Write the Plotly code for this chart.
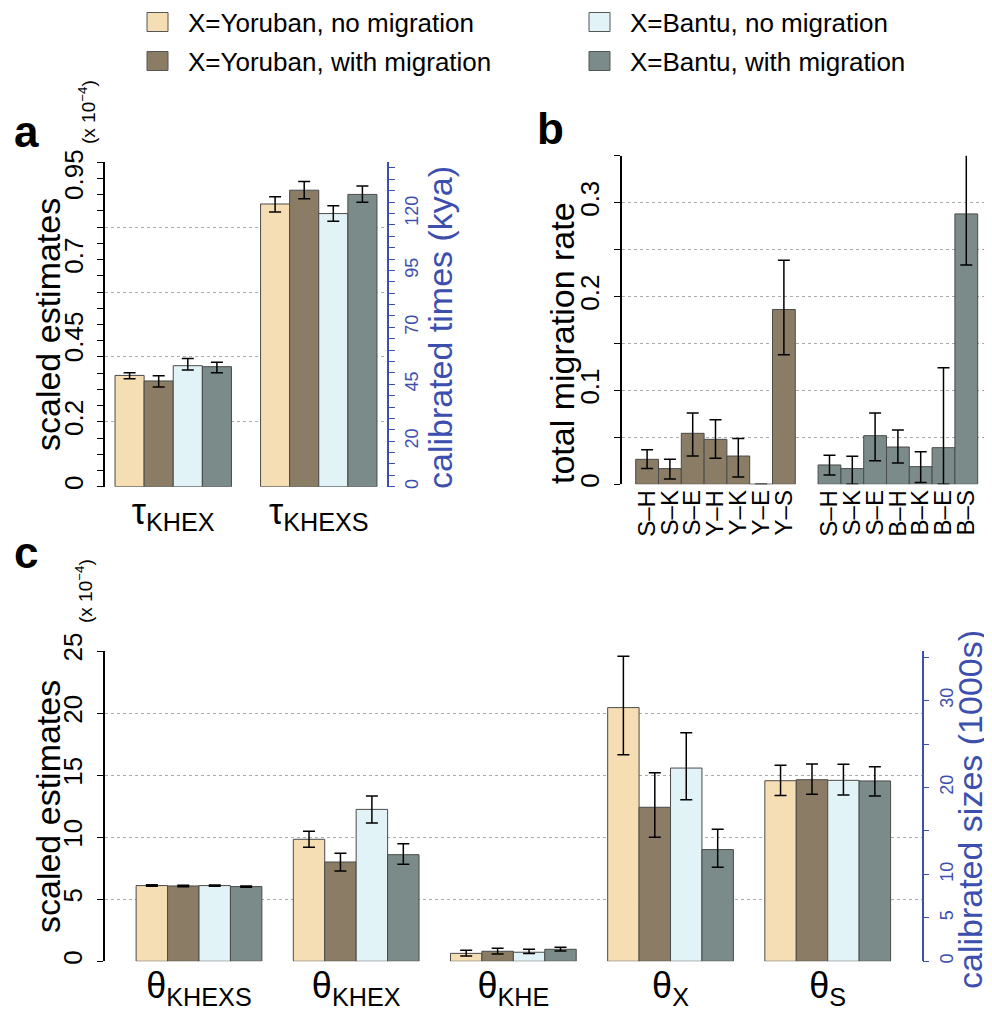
import plotly.graph_objects as go
import numpy as np

# page offset of the figure (default body margin) is compensated below
OFF = 8
W, H = 992 - OFF, 1009
FONT = "Liberation Sans, Arial, Helvetica, sans-serif"
BLUE = "#3D4FAE"

series = ["X=Yoruban, no migration", "X=Yoruban, with migration",
          "X=Bantu, no migration", "X=Bantu, with migration"]
colors = ["#F5DEB3", "#8B7D65", "#E2F3F7", "#7A8B8A"]

# ---- panel a : divergence times (x 1e-4)
tau_groups = ["τ<sub>KHEX</sub>", "τ<sub>KHEXS</sub>"]
tau_val = [[0.343, 0.8715], [0.326, 0.914], [0.373, 0.842], [0.370, 0.901]]
tau_hi = [[0.351, 0.894], [0.342, 0.941], [0.395, 0.866], [0.384, 0.927]]
tau_lo = [[0.333, 0.847], [0.307, 0.888], [0.360, 0.818], [0.351, 0.877]]
tau_left_ticks = [0, 0.2, 0.45, 0.7, 0.95]
kya_ticks = [0, 20, 45, 70, 95, 120]
kya_top = 142.5

# ---- panel b : migration rates
mig_labels_y = ["S–H", "S–K", "S–E", "Y–H", "Y–K", "Y–E", "Y–S"]
mig_val_y = [0.0266, 0.0167, 0.0543, 0.0479, 0.0301, 0.0, 0.1862]
mig_hi_y = [0.0369, 0.0266, 0.0759, 0.0688, 0.0489, 0.0, 0.2387]
mig_lo_y = [0.0167, 0.0057, 0.0301, 0.0277, 0.0078, 0.0, 0.1379]
mig_labels_b = ["S–H", "S–K", "S–E", "B–H", "B–K", "B–E", "B–S"]
mig_val_b = [0.0206, 0.0167, 0.0518, 0.0397, 0.0188, 0.039, 0.288]
mig_hi_b = [0.0309, 0.0298, 0.0759, 0.0578, 0.0348, 0.1241, 0.3532]
mig_lo_b = [0.0099, 0.0, 0.0252, 0.0227, 0.0018, 0.0, 0.2337]
mig_ticks = [0, 0.1, 0.2, 0.3]

# ---- panel c : population sizes (x 1e-4)
theta_groups = ["θ<sub>KHEXS</sub>", "θ<sub>KHEX</sub>", "θ<sub>KHE</sub>",
                "θ<sub>X</sub>", "θ<sub>S</sub>"]
theta_val = [[6.10, 9.83, 0.64, 20.44, 14.55],
             [6.07, 8.00, 0.81, 12.41, 14.63],
             [6.10, 12.24, 0.73, 15.57, 14.58],
             [6.02, 8.59, 0.97, 9.00, 14.53]]
theta_hi = [[6.16, 10.47, 0.89, 24.57, 15.79],
            [6.13, 8.70, 1.05, 15.20, 15.90],
            [6.15, 13.32, 0.97, 18.42, 15.87],
            [6.07, 9.48, 1.13, 10.63, 15.68]]
theta_lo = [[6.04, 9.18, 0.43, 16.65, 13.35],
            [6.01, 7.28, 0.59, 9.99, 13.45],
            [6.05, 11.14, 0.62, 13.02, 13.40],
            [5.97, 7.81, 0.83, 7.57, 13.32]]
size_ticks = [0, 5, 10, 20, 30]
size_top = 35.7


def px_x(p):
    return (p - OFF) / W


def px_y(p):
    return 1 - (p - OFF) / H


fig = go.Figure()
ebar = dict(type="data", symmetric=False, color="black", thickness=1.5, width=6)
line = dict(color="#4a4a4a", width=1)

for i in range(4):
    v = np.array(tau_val[i]); hi = np.array(tau_hi[i]); lo = np.array(tau_lo[i])
    fig.add_bar(x=tau_groups, y=v, name=series[i], marker=dict(color=colors[i], line=line),
                error_y=dict(array=hi - v, arrayminus=v - lo, **ebar),
                xaxis="x", yaxis="y", showlegend=False)
for i in range(4):
    v = np.array(theta_val[i]); hi = np.array(theta_hi[i]); lo = np.array(theta_lo[i])
    fig.add_bar(x=theta_groups, y=v, name=series[i], marker=dict(color=colors[i], line=line),
                error_y=dict(array=hi - v, arrayminus=v - lo, **ebar),
                xaxis="x3", yaxis="y5", showlegend=False)

# panel b: one trace, two groups separated by one empty slot
n1 = len(mig_val_y)
xb = list(range(n1)) + [n1 + 1 + k for k in range(len(mig_val_b))]
vb = np.array(mig_val_y + mig_val_b)
hib = np.array(mig_hi_y + mig_hi_b)
lob = np.array(mig_lo_y + mig_lo_b)
cb = [colors[1]] * n1 + [colors[3]] * len(mig_val_b)
fig.add_bar(x=xb, y=vb, width=1, marker=dict(color=cb, line=line),
            error_y=dict(array=hib - vb, arrayminus=vb - lob, **ebar),
            xaxis="x2", yaxis="y4", showlegend=False)

# empty helper traces so that the overlaying (secondary) axes get drawn
for xa, ya in [("x", "y2"), ("x", "y3"), ("x3", "y6")]:
    fig.add_scatter(x=[None], y=[None], mode="none", showlegend=False,
                    hoverinfo="skip", xaxis=xa, yaxis=ya)

gridstyle = dict(showgrid=True, gridcolor="#ababab", griddash="dot", gridwidth=1)
ax_common = dict(showline=True, linecolor="black", linewidth=1.5, ticks="outside",
                 ticklen=6, tickcolor="black", tickwidth=1.2, zeroline=False,
                 ticklabelstandoff=5,
                 tickangle=-90, tickfont=dict(size=26, color="black"), automargin=False)
right_common = dict(showgrid=False, showline=True, linecolor=BLUE, linewidth=1.5,
                    ticks="outside", ticklen=6, tickcolor=BLUE, tickwidth=1.2,
                    automargin=False, zeroline=False, tickangle=-90, ticklabelstandoff=2,
                    tickfont=dict(size=18, color=BLUE), visible=True)

a_dom_x = [px_x(105), px_x(387)]
a_dom_y = [px_y(486.7), px_y(162.3)]
b_dom_x = [px_x(621.7), px_x(990)]
b_dom_y = [px_y(484.3), px_y(155.7)]
c_dom_x = [px_x(105), px_x(921.7)]
c_dom_y = [px_y(961.3), px_y(651)]

step_a = np.round(np.arange(0, 1.0001, 0.05), 2)
kya_all = np.arange(0, kya_top, 5)
size_all = np.arange(0, 35.01, 5)
mig_all = np.round(np.arange(0, 0.3501, 0.05), 2)

fig.update_layout(
    width=W, height=H, margin=dict(l=0, r=0, t=0, b=0, autoexpand=False),
    paper_bgcolor="white", plot_bgcolor="white",
    font=dict(family=FONT, color="black"),
    barmode="group", bargap=0.2, bargroupgap=0,
    showlegend=False,
    # panel a
    xaxis=dict(domain=a_dom_x, anchor="y", range=[-0.469, 1.469], showline=False,
               ticks="", tickfont=dict(size=36), fixedrange=True, automargin=False),
    yaxis=dict(domain=a_dom_y, anchor="x", range=[0, 1], tickvals=[0, 0.2, 0.4, 0.6, 0.8, 1.0],
               showticklabels=False, showline=True, linecolor="black", linewidth=1.5,
               ticks="", zeroline=False, automargin=False,
               minor=dict(tickvals=list(step_a), ticks="outside", ticklen=6,
                          tickcolor="black", tickwidth=1.2, showgrid=False),
               **gridstyle),
    yaxis3=dict(overlaying="y", side="left", anchor="x", range=[0, 1], visible=True,
                tickvals=tau_left_ticks, ticktext=[f"{t:g}" for t in tau_left_ticks],
                showgrid=False, showline=False, ticks="outside", ticklen=6,
                tickcolor="rgba(0,0,0,0)", zeroline=False, tickangle=-90, automargin=False,
                ticklabelstandoff=5, tickfont=dict(size=26, color="black")),
    yaxis2=dict(overlaying="y", side="right", anchor="x", range=[0, kya_top],
                tickvals=list(kya_all),
                ticktext=[f"{int(t)}" if int(t) in kya_ticks else "" for t in kya_all],
                **right_common),
    # panel b
    xaxis2=dict(domain=b_dom_x, anchor="y4", range=[-1.114, 15.04], showline=False,
                ticks="", tickvals=xb, ticktext=mig_labels_y + mig_labels_b, automargin=False,
                tickangle=-90, tickfont=dict(size=24), fixedrange=True),
    yaxis4=dict(domain=b_dom_y, anchor="x2", range=[0, 0.35], tickvals=list(mig_all),
                ticktext=[f"{t:g}" if any(abs(t - m) < 1e-9 for m in mig_ticks) else ""
                          for t in mig_all],
                **ax_common, **gridstyle),
    # panel c
    xaxis3=dict(domain=c_dom_x, anchor="y5", range=[-0.598, 4.598], showline=False,
                ticks="", tickfont=dict(size=36), fixedrange=True, automargin=False),
    yaxis5=dict(domain=c_dom_y, anchor="x3", range=[0, 25], tickvals=[0, 5, 10, 15, 20, 25],
                **ax_common, **gridstyle),
    yaxis6=dict(overlaying="y5", side="right", anchor="x3", range=[0, size_top],
                tickvals=list(size_all),
                ticktext=[f"{int(t)}" if int(t) in size_ticks else "" for t in size_all],
                **right_common),
)

ann = []
shapes = []


def add_text(x, y, text, size, color="black", angle=0, bold=False, xanchor="center"):
    t = f"<b>{text}</b>" if bold else text
    ann.append(dict(x=px_x(x), y=px_y(y), xref="paper", yref="paper", text=t,
                    showarrow=False, textangle=angle, xanchor=xanchor, yanchor="middle",
                    borderpad=0, font=dict(size=size, color=color, family=FONT)))


# legend: 2 x 2 grid of keys (column = population X, row = model)
leg_cols = [147, 589]
leg_rows = [22, 61]
for i in range(4):
    col = 0 if i < 2 else 1
    row = i % 2
    cx, cy = leg_cols[col], leg_rows[row]
    shapes.append(dict(type="rect", xref="paper", yref="paper",
                       x0=px_x(cx), x1=px_x(cx + 21), y0=px_y(cy + 9.5), y1=px_y(cy - 9.5),
                       fillcolor=colors[i], line=dict(color="#555555", width=1)))
    add_text(cx + 40, cy + 1, series[i], 26, xanchor="left")

add_text(26, 131, "a", 44, bold=True)
add_text(550, 129, "b", 44, bold=True)
add_text(26, 552, "c", 44, bold=True)
add_text(87, 112, "(x 10<sup>−4</sup>)", 19, angle=-90)
add_text(84, 591, "(x 10<sup>−4</sup>)", 19, angle=-90)
add_text(48, 325, "scaled estimates", 34, angle=-90)
add_text(440, 328, "calibrated times (kya)", 34, color=BLUE, angle=-90)
add_text(562, 343, "total migration rate", 34, angle=-90)
add_text(48, 807, "scaled estimates", 34, angle=-90)
add_text(970, 810, "calibrated sizes (1000s)", 34, color=BLUE, angle=-90)
fig.update_layout(annotations=ann, shapes=shapes)

fig.write_html("out.html")
